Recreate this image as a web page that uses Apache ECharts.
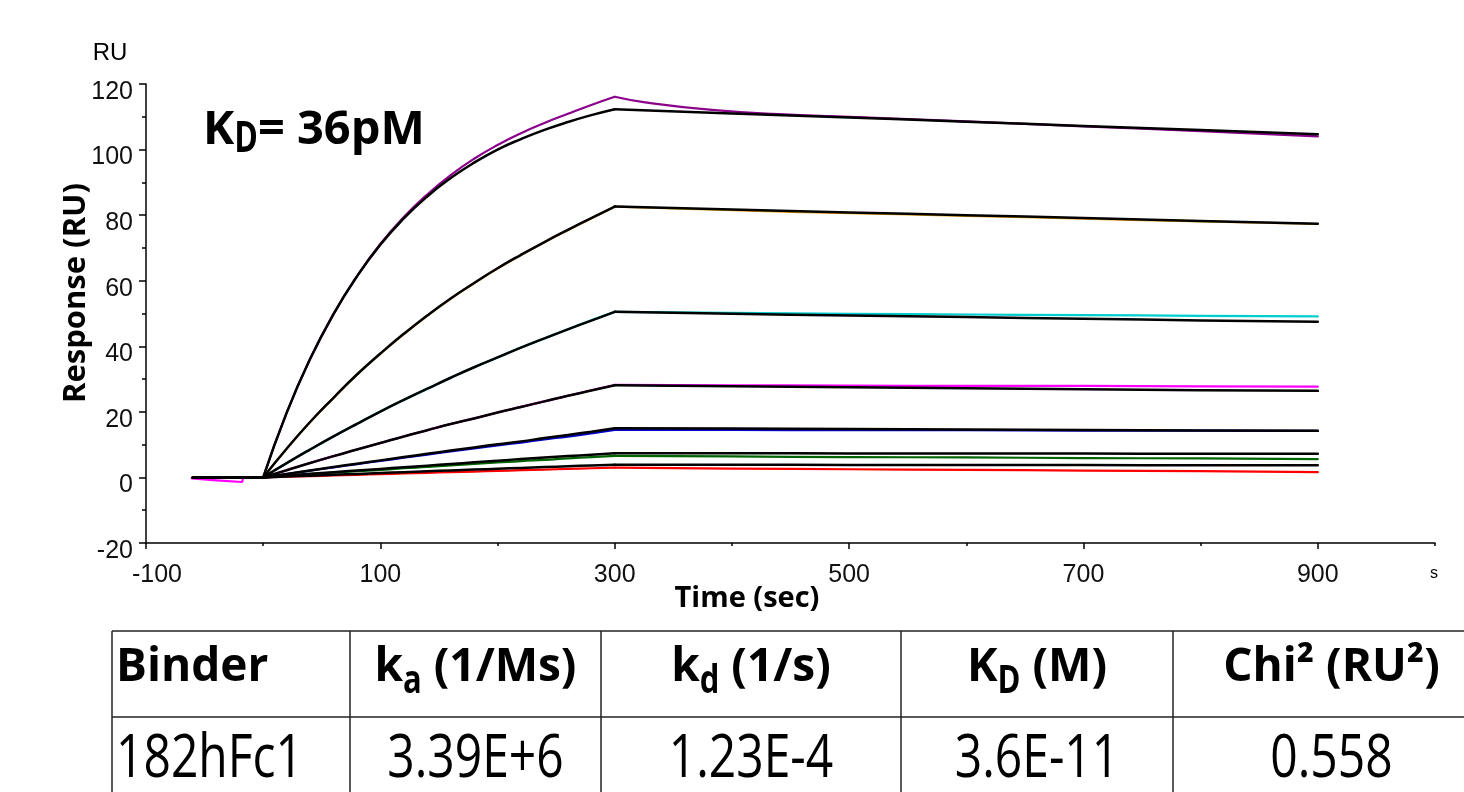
<!DOCTYPE html>
<html><head><meta charset="utf-8">
<script src="https://cdn.jsdelivr.net/npm/echarts@6/dist/echarts.min.js"></script>
<style>html,body{margin:0;padding:0;background:#fff}#c{width:1464px;height:792px}</style>
</head><body><div id="c"></div>
<script>
// ---- data ----
const baseTimes = [-60, -20, 0];
const assocTimes = [0,20,40,60,80,100,120,140,160,180,200,220,240,260,280,300];
const dissocTimes = [300,400,500,600,700,800,900];
const xTickLabels = [-100,100,300,500,700,900];
const xMinorTicks = [0,200,400,600,800,1000];

const colors = ['#8B008B','#E8A317','#00CDCD','#FF00FF','#0000CD','#006400','#FF0000'];

// measured responses (colored traces)
const data1Assoc = [0,19.7,36.1,49.8,61.3,71.2,79.4,86.3,92.2,97.2,101.4,105.0,108.1,110.9,113.6,116.1];
const data1DissTimes = [300,326,383,440,500,600,700,800,900];
const data1Diss = [116.1,114.4,112.1,110.8,110.0,108.6,107.1,105.6,104.0];
const data2Assoc = [0,8.7,16.8,24.2,31.3,37.7,43.7,49.3,54.5,59.2,63.7,67.8,71.7,75.4,79.0,82.6];
const data2Diss = [82.6,81.5,80.6,79.8,78.9,78.1,77.3];
const data3Assoc = [0,4.3,8.5,12.5,16.3,20.1,23.6,27.0,30.4,33.6,36.6,39.6,42.4,45.2,47.9,50.5];
const data3Diss = [50.5,50.2,49.9,49.7,49.5,49.3,49.1];
const data4BaseTimes = [-61,-40,-18,-17,0];
const data4Base = [-0.3,-0.9,-1.4,0,0];
const data4Assoc = [0,2.2,4.4,6.5,8.5,10.5,12.5,14.4,16.3,18.0,19.8,21.5,23.2,24.9,26.6,28.2];
const data4Diss = [28.2,28.1,28.0,27.9,27.9,27.8,27.7];
const data5Assoc = [0,1.0,2.06,3.07,4.06,5.03,6.0,6.96,7.93,8.85,9.77,10.64,11.6,12.47,13.45,14.5];
const data5Diss = [14.5,14.5,14.4,14.4,14.3,14.3,14.2];
const data6Assoc = [0,0.5,1.0,1.45,1.9,2.3,2.8,3.2,3.65,4.1,4.55,5.0,5.35,5.8,6.2,6.6];
const data6Diss = [6.6,6.4,6.2,6.1,5.9,5.8,5.6];
const data7Assoc = [0,0.2,0.4,0.6,0.8,1.0,1.2,1.4,1.6,1.8,2.0,2.2,2.4,2.6,2.8,3.0];
const data7Diss = [3.0,2.7,2.5,2.3,2.1,1.9,1.6];

// fitted curves (black)
const fit1Assoc = [0,19.7,36.1,49.8,61.3,71.0,79.0,85.7,91.3,96.0,100.0,103.2,106.0,108.4,110.5,112.3];
const fit1Diss = [112.3,111.0,109.8,108.5,107.2,106.0,104.7];
const fit2Assoc = [0,8.75,16.9,24.3,31.4,37.8,43.8,49.4,54.6,59.3,63.8,67.9,71.8,75.5,79.1,82.6];
const fit2Diss = [82.6,81.7,80.8,80.0,79.1,78.2,77.4];
const fit3Assoc = [0,4.35,8.5,12.5,16.35,20.1,23.65,27.05,30.4,33.6,36.6,39.6,42.4,45.15,47.85,50.5];
const fit3Diss = [50.5,49.9,49.4,48.9,48.4,47.9,47.5];
const fit4Assoc = [0,2.2,4.4,6.5,8.5,10.5,12.5,14.4,16.3,18.0,19.8,21.5,23.2,24.9,26.5,28.1];
const fit4Diss = [28.1,27.8,27.5,27.2,26.9,26.6,26.4];
const fit5Assoc = [0,1.07,2.13,3.17,4.2,5.2,6.2,7.2,8.2,9.15,10.1,11.0,12.0,12.95,13.95,15.0];
const fit5Diss = [15.0,14.9,14.8,14.6,14.5,14.3,14.2];
const fit6Assoc = [0,0.55,1.1,1.6,2.1,2.6,3.1,3.6,4.1,4.6,5.1,5.6,6.05,6.5,6.95,7.4];
const fit6Diss = [7.4,7.4,7.3,7.3,7.3,7.2,7.2];
const fit7Assoc = [0,0.27,0.54,0.81,1.08,1.35,1.61,1.87,2.13,2.39,2.64,2.9,3.15,3.4,3.65,3.9];
const fit7Diss = [3.9,3.9,3.8,3.8,3.8,3.7,3.7];
const fitBase = [0,0,0];
const zeroBase = [0,0,0];

// table
const tableHeaders = ['Binder','k|a| (1/Ms)','k|d| (1/s)','K|D| (M)','Chi² (RU²)'];
const tableRow = ['182hFc1','3.39E+6','1.23E-4','3.6E-11','0.558'];

// ---- build ----
function pairs(ts, vs){ return ts.map((t,i)=>[t,vs[i]]); }

const traces = [
  [pairs(baseTimes, zeroBase), pairs(assocTimes, data1Assoc), pairs(data1DissTimes, data1Diss)],
  [pairs(baseTimes, zeroBase), pairs(assocTimes, data2Assoc), pairs(dissocTimes, data2Diss)],
  [pairs(baseTimes, zeroBase), pairs(assocTimes, data3Assoc), pairs(dissocTimes, data3Diss)],
  [pairs(data4BaseTimes, data4Base), pairs(assocTimes, data4Assoc), pairs(dissocTimes, data4Diss)],
  [pairs(baseTimes, zeroBase), pairs(assocTimes, data5Assoc), pairs(dissocTimes, data5Diss)],
  [pairs(baseTimes, zeroBase), pairs(assocTimes, data6Assoc), pairs(dissocTimes, data6Diss)],
  [pairs(baseTimes, zeroBase), pairs(assocTimes, data7Assoc), pairs(dissocTimes, data7Diss)]
];
const fits = [
  [fit1Assoc, fit1Diss],[fit2Assoc, fit2Diss],[fit3Assoc, fit3Diss],[fit4Assoc, fit4Diss],
  [fit5Assoc, fit5Diss],[fit6Assoc, fit6Diss],[fit7Assoc, fit7Diss]
].map(([a,d]) => [pairs(baseTimes, fitBase), pairs(assocTimes, a), pairs(dissocTimes, d)]);

const series = [];
function addTrace(parts, color, width, z){
  parts.forEach((p, k) => {
    series.push({type:'line', data:p, showSymbol:false, symbol:'none',
      smooth: k === 0 ? false : 0.5,
      lineStyle:{color:color, width:width, cap:'round', join:'round'}, z:z, silent:true, animation:false});
  });
}
for (let i = 6; i >= 0; i--) addTrace(traces[i], colors[i], 2.2, 2);
for (let i = 6; i >= 0; i--) addTrace(fits[i], '#000', 2.5, 3);

// text measuring
const mctx = document.createElement('canvas').getContext('2d');
function tw(text, font){ mctx.font = font; return mctx.measureText(text).width; }

const graphics = [];
const FT = '"Open Sans", "Noto Sans", sans-serif';
const AR = '"Liberation Sans", Arial, sans-serif';
function txt(x, y, text, font, align, opts){
  return Object.assign({type:'text', x:x, y:y, silent:true,
    style:{text:text, font:font, fill:'#000', align:align||'left', verticalAlign:'middle'}}, opts||{});
}

// KD annotation
{
  const fBig = 'bold 47px ' + FT, fSub = 'bold 32px ' + FT;
  let x = 203;
  graphics.push(txt(x, 131, 'K', fBig, 'left'));
  x += tw('K', fBig);
  graphics.push(txt(x, 140, 'D', fSub, 'left', {scaleY:1.35}));
  x += tw('D', fSub);
  graphics.push(txt(x, 131, '= 36pM', fBig, 'left'));
}
// axis titles
graphics.push(txt(76, 293, 'Response (RU)', 'bold 31px ' + FT, 'center', {rotation: Math.PI/2}));
graphics.push(txt(747, 599, 'Time (sec)', 'bold 29px ' + FT, 'center'));
graphics.push(txt(110, 53, 'RU', '24px ' + AR, 'center'));
graphics.push(txt(1434, 574, 's', '16px ' + AR, 'center'));

// table
const colX = [112, 350, 601, 901, 1173, 1490];
const lineStyle = {stroke:'#222', lineWidth:1.5};
graphics.push({type:'line', silent:true, shape:{x1:112,y1:631,x2:1464,y2:631}, style:lineStyle});
graphics.push({type:'line', silent:true, shape:{x1:112,y1:717,x2:1464,y2:717}, style:lineStyle});
for (let i = 0; i < 5; i++) {
  graphics.push({type:'line', silent:true, shape:{x1:colX[i],y1:631,x2:colX[i],y2:792}, style:lineStyle});
}
const fHead = 'bold 46px ' + FT, fHeadSub = 'bold 31px ' + FT, fBody = '48px ' + FT;
tableHeaders.forEach((h, i) => {
  const parts = h.split('|');
  const y = 668;
  if (i === 0) { graphics.push(txt(116, y, parts[0], fHead, 'left')); return; }
  const cx = (colX[i] + colX[i+1]) / 2;
  if (parts.length === 1) { graphics.push(txt(cx, y, parts[0], fHead, 'center')); return; }
  const w = tw(parts[0], fHead) + tw(parts[1], fHeadSub) + tw(parts[2], fHead);
  let x = cx - w/2;
  graphics.push(txt(x, y, parts[0], fHead, 'left')); x += tw(parts[0], fHead);
  graphics.push(txt(x, y + 14, parts[1], fHeadSub, 'left', {scaleY:1.25})); x += tw(parts[1], fHeadSub);
  graphics.push(txt(x, y, parts[2], fHead, 'left'));
});
tableRow.forEach((v, i) => {
  if (i === 0) graphics.push(txt(116, 760, v, fBody, 'left', {scaleY:1.25}));
  else graphics.push(txt((colX[i] + colX[i+1]) / 2, 760, v, fBody, 'center', {scaleY:1.25}));
});

const chart = echarts.init(document.getElementById('c'), null, {renderer:'canvas'});
chart.setOption({
  animation:false,
  backgroundColor:'#fff',
  grid:{left:146, right:29, top:84, bottom:249, containLabel:false},
  xAxis:[{
    type:'value', min:-100, max:1000, interval:200,
    axisLine:{onZero:false, lineStyle:{color:'#000', width:1.5}},
    axisTick:{show:true, length:6, customValues:xTickLabels, lineStyle:{color:'#000', width:1.5}},
    axisLabel:{customValues:xTickLabels, margin:20, fontFamily:AR, fontSize:25, color:'#111',
      formatter: v => v === -100 ? '{a|-100}' : String(v),
      rich:{a:{fontFamily:AR, fontSize:25, color:'#111', padding:[0,0,0,22]}}},
    splitLine:{show:false}
  },{
    type:'value', min:-100, max:1000, position:'bottom',
    axisLine:{show:false, onZero:false},
    axisTick:{show:true, length:3, customValues:xMinorTicks, lineStyle:{color:'#000', width:1.5}},
    axisLabel:{show:false}, splitLine:{show:false}
  }],
  yAxis:{
    type:'value', min:-20, max:120, interval:20,
    axisLine:{show:true, onZero:false, lineStyle:{color:'#000', width:1.5}},
    axisTick:{show:true, length:7, lineStyle:{color:'#000', width:1.5}},
    minorTick:{show:true, splitNumber:2, length:4, lineStyle:{color:'#000', width:1.5}},
    axisLabel:{margin:13, color:'#111', formatter: v => '{a|' + v + '}',
      rich:{a:{fontFamily:AR, fontSize:25, color:'#111', padding:[16,0,0,0]}}},
    splitLine:{show:false}, minorSplitLine:{show:false}
  },
  series: series,
  graphic: graphics
});
</script>
</body></html>
